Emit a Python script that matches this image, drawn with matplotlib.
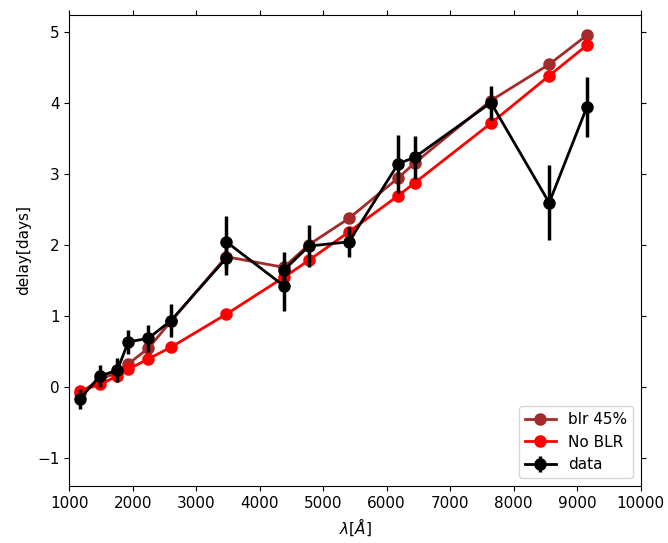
import matplotlib
matplotlib.use("Agg")
import matplotlib.pyplot as plt

# model wavelengths (Angstrom) and predicted delays
wave_model = [1169, 1484, 1756, 1930, 2245, 2602, 3473, 4380, 4775, 5405, 6182, 6440, 7642, 8560, 9154]
delay_blr45 = [-0.09, 0.10, 0.20, 0.32, 0.54, 0.92, 1.83, 1.68, 2.00, 2.37, 2.94, 3.15, 4.03, 4.54, 4.95]
delay_noblr = [-0.06, 0.03, 0.15, 0.245, 0.39, 0.555, 1.02, 1.54, 1.78, 2.18, 2.69, 2.87, 3.71, 4.38, 4.81]

# measured lags with uncertainties
wave_data = [1169, 1484, 1756, 1930, 2245, 2602, 3473, 3473, 4380, 4380, 4775, 5405, 6182, 6440, 7642, 8560, 9154]
delay_data = [-0.17, 0.15, 0.23, 0.63, 0.68, 0.93, 1.81, 2.04, 1.42, 1.64, 1.98, 2.04, 3.14, 3.23, 4.00, 2.59, 3.94]
delay_err = [0.14, 0.15, 0.17, 0.17, 0.19, 0.235, 0.24, 0.37, 0.35, 0.26, 0.30, 0.21, 0.41, 0.30, 0.24, 0.53, 0.42]

plt.rcParams["font.size"] = 11

fig, ax = plt.subplots(figsize=(6.68, 5.43), dpi=100)
fig.subplots_adjust(left=0.1037, right=0.959, bottom=0.105, top=0.973)

ax.plot(wave_model, delay_blr45, "-o", color="brown", lw=2, ms=8, label="blr 45%")
ax.plot(wave_model, delay_noblr, "-o", color="red", lw=2, ms=8, label="No BLR")
ax.errorbar(wave_data, delay_data, yerr=delay_err, fmt="-o", color="black",
            lw=2, ms=8, elinewidth=2.5, label="data")

ax.set_xlim(1000, 10000)
ax.set_ylim(-1.40, 5.24)
ax.set_xticks(range(1000, 10001, 1000))
ax.tick_params(top=True, right=True)
ax.set_xlabel(r"$\lambda[\AA]$")
ax.set_ylabel("delay[days]")
ax.legend(loc="lower right")

fig.savefig("out.png", dpi=100)
